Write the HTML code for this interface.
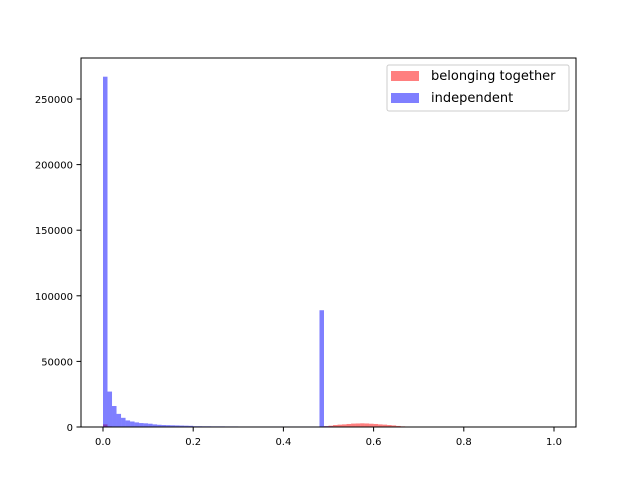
<!DOCTYPE html>
<html><head><meta charset="utf-8"><style>body{margin:0;background:#fff}svg text{font-family:"DejaVu Sans","Liberation Sans",sans-serif;font-size:10px}</style></head>
<body>
<svg id="c" width="640" height="480" xmlns="http://www.w3.org/2000/svg">
<rect width="640" height="480" fill="#fff"/>
<g id="bars"></g>
<rect x="81" y="58" width="495" height="369" fill="none" stroke="#000" stroke-width="1"/>
<g id="axes"></g>
<g>
<rect x="387" y="65" width="182" height="46" rx="2" fill="#fff" fill-opacity="0.8" stroke="#ccc"/>
<rect x="391" y="71" width="28" height="10" fill="#ff0000" fill-opacity="0.5"/>
<text x="431" y="80" font-size="13" style="font-size:13px">belonging together</text>
<rect x="391" y="93" width="28" height="10" fill="#0000ff" fill-opacity="0.5"/>
<text x="431" y="102" style="font-size:13px">independent</text>
</g>
</svg>
<script>
const binEdgesStart = [0, 0.01, 0.02, 0.03, 0.04, 0.05, 0.06, 0.07, 0.08, 0.09, 0.10, 0.11, 0.12, 0.13, 0.14, 0.15, 0.16, 0.17, 0.18, 0.19];
const blueStartValues = [267000, 27000, 16000, 10000, 7000, 5000, 4200, 3500, 3000, 2800, 2500, 2000, 1700, 1500, 1400, 1300, 1200, 1100, 1000, 900];
const blueMidStart = 0.20;
const blueMidValues = [600,600,550,550,500,500,500,450,450,450,400,400,400,400,400,400,400,400,400,400,400,400,400,400,400,400,400,400];
const blueSpikeBin = 0.48;
const blueSpikeValue = 89000;
const blueTailStart = 0.49;
const blueTailValues = [600, 500, 400, 300, 200];
const redStart = 0.46;
const redValues = [100, 200, 300, 600, 1000, 1500, 1800, 2000, 2300, 2600, 2700, 2800, 2700, 2500, 2300, 2000, 1800, 1500, 1200, 800, 500, 200];
const redLowStart = 0;
const redLowValues = [2000, 500];
const xTicks = [0.0, 0.2, 0.4, 0.6, 0.8, 1.0];
const yTicks = [0, 50000, 100000, 150000, 200000, 250000];

const NS = "http://www.w3.org/2000/svg";
const X = v => 103 + v * 451;
const Y = v => 427 - v * (328 / 250000);
const W = 0.01;
const bars = document.getElementById('bars');
const axes = document.getElementById('axes');
function bar(x0, v, color, name) {
  const r = document.createElementNS(NS, 'rect');
  r.setAttribute('x', X(x0)); r.setAttribute('width', X(x0 + W) - X(x0));
  r.setAttribute('y', Y(v)); r.setAttribute('height', Y(0) - Y(v));
  r.setAttribute('fill', color); r.setAttribute('fill-opacity', '0.5');
  
  
  bars.appendChild(r);
}
redLowValues.forEach((v, i) => bar(redLowStart + i * W, v, '#ff0000', 'bar-belonging-together'));
redValues.forEach((v, i) => bar(redStart + i * W, v, '#ff0000', 'bar-belonging-together'));
binEdgesStart.forEach((s, i) => bar(s, blueStartValues[i], '#0000ff', 'bar-independent'));
blueMidValues.forEach((v, i) => bar(blueMidStart + i * W, v, '#0000ff', 'bar-independent'));
bar(blueSpikeBin, blueSpikeValue, '#0000ff', 'bar-independent');
blueTailValues.forEach((v, i) => bar(blueTailStart + i * W, v, '#0000ff', 'bar-independent'));

xTicks.forEach(t => {
  const l = document.createElementNS(NS, 'line');
  l.setAttribute('x1', X(t)); l.setAttribute('x2', X(t)); l.setAttribute('y1', 427); l.setAttribute('y2', 431.5);
  l.setAttribute('stroke', '#000');
  axes.appendChild(l);
  const tx = document.createElementNS(NS, 'text');
  tx.setAttribute('x', X(t)); tx.setAttribute('y', 445); tx.setAttribute('text-anchor', 'middle');
  tx.textContent = t.toFixed(1);
  
  
  axes.appendChild(tx);
});
yTicks.forEach(t => {
  const l = document.createElementNS(NS, 'line');
  l.setAttribute('x1', 76.5); l.setAttribute('x2', 81); l.setAttribute('y1', Y(t)); l.setAttribute('y2', Y(t));
  l.setAttribute('stroke', '#000');
  axes.appendChild(l);
  const tx = document.createElementNS(NS, 'text');
  tx.setAttribute('x', 73); tx.setAttribute('y', Y(t) + 4); tx.setAttribute('text-anchor', 'end');
  tx.textContent = String(t);
  
  
  axes.appendChild(tx);
});
</script>
</body></html>
